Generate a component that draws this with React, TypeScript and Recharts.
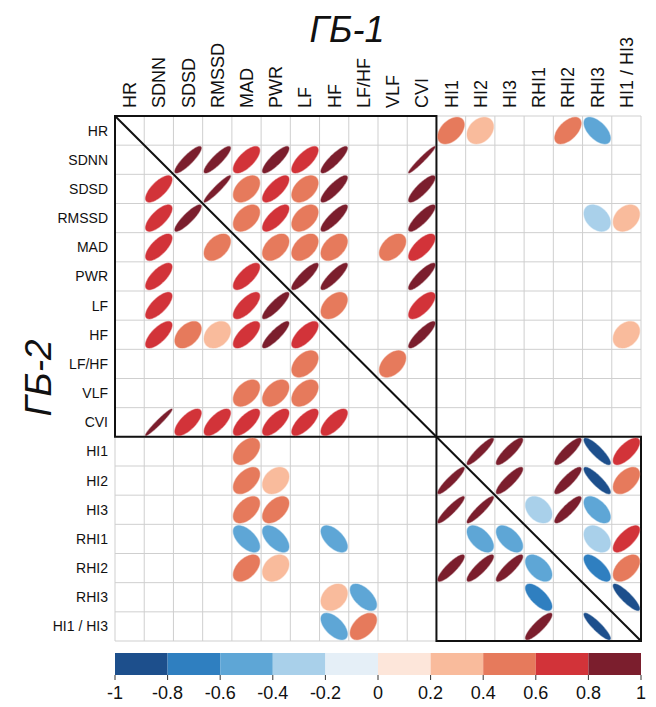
import React from 'react';
import {
  ScatterChart, Scatter, XAxis, YAxis, CartesianGrid, ReferenceLine, ReferenceArea,
  Customized, BarChart, Bar,
} from 'recharts';

// ---- categories / tick labels ----
const labels = ['HR', 'SDNN', 'SDSD', 'RMSSD', 'MAD', 'PWR', 'LF', 'HF', 'LF/HF', 'VLF', 'CVI',
  'HI1', 'HI2', 'HI3', 'RHI1', 'RHI2', 'RHI3', 'HI1 / HI3'];
const colorTicks = [-1, -0.8, -0.6, -0.4, -0.2, 0, 0.2, 0.4, 0.6, 0.8, 1];
const binColors = ['#1d4f8c', '#2f7fc0', '#5ea6d6', '#a9d0ea', '#e5eff7',
  '#fde6da', '#f9bb9c', '#e67a5c', '#d23339', '#7b1e2d'];

// ---- correlation values, one array per row (null = not shown) ----
const _ = null;
const rowHR    = [_, _, _, _, _, _, _, _, _, _, _, 0.45, 0.3, _, _, 0.55, -0.58, _];
const rowSDNN  = [_, _, 0.88, 0.88, 0.7, 0.85, 0.72, 0.87, _, _, 0.97, _, _, _, _, _, _, _];
const rowSDSD  = [_, 0.72, _, 0.95, 0.45, 0.72, 0.45, 0.85, _, _, 0.85, _, _, _, _, _, _, _];
const rowRMSSD = [_, 0.72, 0.88, _, 0.45, 0.72, 0.45, 0.85, _, _, 0.85, _, _, _, _, _, -0.35, 0.3];
const rowMAD   = [_, 0.7, _, 0.45, _, 0.45, 0.45, 0.45, _, 0.45, 0.7, _, _, _, _, _, _, _];
const rowPWR   = [_, 0.72, _, _, 0.72, _, 0.87, 0.87, _, _, 0.87, _, _, _, _, _, _, _];
const rowLF    = [_, 0.72, _, _, 0.72, 0.87, _, 0.45, _, _, 0.7, _, _, _, _, _, _, _];
const rowHF    = [_, 0.72, 0.45, 0.3, 0.7, 0.87, 0.7, _, _, _, 0.87, _, _, _, _, _, _, 0.3];
const rowLFHF  = [_, _, _, _, _, _, 0.45, _, _, 0.45, _, _, _, _, _, _, _, _];
const rowVLF   = [_, _, _, _, 0.45, 0.45, 0.45, _, _, _, _, _, _, _, _, _, _, _];
const rowCVI   = [_, 0.97, 0.7, 0.7, 0.72, 0.7, 0.72, 0.7, _, _, _, _, _, _, _, _, _, _];
const rowHI1   = [_, _, _, _, 0.45, _, _, _, _, _, _, _, 0.92, 0.87, _, 0.87, -0.87, 0.7];
const rowHI2   = [_, _, _, _, 0.5, 0.3, _, _, _, _, _, 0.92, _, 0.87, _, 0.87, -0.87, 0.5];
const rowHI3   = [_, _, _, _, 0.5, 0.5, _, _, _, _, _, 0.92, 0.92, _, -0.35, 0.87, -0.55, _];
const rowRHI1  = [_, _, _, _, -0.58, -0.58, _, -0.58, _, _, _, _, -0.55, -0.55, _, _, -0.35, 0.7];
const rowRHI2  = [_, _, _, _, 0.5, 0.3, _, _, _, _, _, 0.87, 0.87, 0.87, -0.5, _, -0.7, 0.5];
const rowRHI3  = [_, _, _, _, _, _, _, 0.3, -0.58, _, _, _, _, _, -0.7, _, _, -0.87];
const rowHI1HI3 = [_, _, _, _, _, _, _, -0.58, 0.5, _, _, _, _, _, 0.87, _, -0.9, _];

const rows = [rowHR, rowSDNN, rowSDSD, rowRMSSD, rowMAD, rowPWR, rowLF, rowHF, rowLFHF, rowVLF,
  rowCVI, rowHI1, rowHI2, rowHI3, rowRHI1, rowRHI2, rowRHI3, rowHI1HI3];

// ---- derived tables ----
const N = labels.length;
const centers = labels.map((_l, i) => i + 0.5);
const bounds = Array.from({ length: N + 1 }, (_v, k) => k);
const points: { x: number; y: number; r: number }[] = [];
rows.forEach((row, ri) => row.forEach((v, ci) => {
  if (v !== null) points.push({ x: ci + 0.5, y: ri + 0.5, r: v as number });
}));
const colorBarRow: Record<string, any> = { name: 'cb', base: -1 };
binColors.forEach((_c, i) => { colorBarRow['b' + i] = colorTicks[i + 1] - colorTicks[i]; });
const colorBarData = [colorBarRow];

// ---- layout ----
const FONT = "Arial, 'Liberation Sans', sans-serif";
const W = 640;
const H = 637;
const MARGIN = { top: 8, right: 7, bottom: 4, left: 7 };
const Y_AXIS_W = 100;
const X_AXIS_H = 100;
const PLOT_W = W - MARGIN.left - MARGIN.right - Y_AXIS_W;
const PLOT_LEFT = MARGIN.left + Y_AXIS_W;
const PLOT_TOP = MARGIN.top + X_AXIS_H;
const CELL = PLOT_W / N;
const BAR_H = 22;

const colorFor = (r: number) => {
  let idx = Math.floor((r + 1) / 0.2 + 1e-9);
  if (idx < 0) idx = 0;
  if (idx > 9) idx = 9;
  return binColors[idx];
};

const EllipseShape = (props: any) => {
  const { cx, cy, payload } = props;
  if (cx == null || cy == null || !payload) return null;
  const r: number = payload.r;
  const d = Math.acos(Math.max(-1, Math.min(1, r)));
  const s = CELL * 0.455;
  let path = '';
  const steps = 80;
  for (let i = 0; i <= steps; i++) {
    const t = (i / steps) * 2 * Math.PI;
    const x = cx + s * Math.cos(t + d / 2);
    const y = cy - s * Math.cos(t - d / 2);
    path += (i === 0 ? 'M' : 'L') + x.toFixed(2) + ',' + y.toFixed(2);
  }
  const c = colorFor(r);
  return <path d={path + 'Z'} fill={c} stroke={c} strokeOpacity={0.45} strokeWidth={1.2} />;
};

const TopTick = (props: any) => {
  const { x, payload } = props;
  const idx = Math.round(payload.value - 0.5);
  const y = PLOT_TOP - 8;
  return (
    <text x={0} y={0} dy="0.36em" transform={`translate(${x},${y}) rotate(-90)`}
      textAnchor="start" fontSize={18} fontFamily={FONT} fill="#111">
      {labels[idx]}
    </text>
  );
};

const LeftTick = (props: any) => {
  const { y, payload } = props;
  const idx = Math.round(payload.value - 0.5);
  return (
    <text x={PLOT_LEFT - 7} y={y} dy="0.36em" textAnchor="end" fontSize={14}
      fontFamily={FONT} fill="#111">
      {labels[idx]}
    </text>
  );
};

const BarTick = (props: any) => {
  const { x, payload } = props;
  const yTop = BAR_H;
  return (
    <g>
      <line x1={x} x2={x} y1={yTop} y2={yTop + 5} stroke="#333" strokeWidth={1} />
      <text x={x} y={yTop + 24} textAnchor="middle" fontSize={18} fontFamily={FONT}
        fill="#111">{String(payload.value)}</text>
    </g>
  );
};

const Titles = () => (
  <g>
    <text x={339} y={34} textAnchor="middle" fontSize={36} fontStyle="italic"
      fontFamily={FONT} fill="#111">ГБ-1</text>
    <text x={0} y={0} transform="translate(43,370) rotate(-90)" textAnchor="middle"
      fontSize={37} fontStyle="italic" fontFamily={FONT} fill="#111">ГБ-2</text>
  </g>
);

export default function App() {
  return (
    <div style={{ width: W, fontFamily: FONT }}>
      <ScatterChart width={W} height={H} margin={MARGIN}>
        <CartesianGrid
          stroke="#cfcfcf"
          strokeWidth={1}
          verticalCoordinatesGenerator={({ offset }: any) =>
            bounds.map((k) => offset.left + (k * offset.width) / N)}
          horizontalCoordinatesGenerator={({ offset }: any) =>
            bounds.map((k) => offset.top + (k * offset.height) / N)}
        />
        <XAxis type="number" dataKey="x" domain={[0, N]} ticks={centers} orientation="top"
          height={X_AXIS_H} axisLine={false} tickLine={false} interval={0}
          tick={<TopTick />} allowDataOverflow />
        <YAxis type="number" dataKey="y" domain={[0, N]} ticks={centers} reversed
          width={Y_AXIS_W} axisLine={false} tickLine={false} interval={0}
          tick={<LeftTick />} allowDataOverflow />
        <Scatter data={points} shape={<EllipseShape />} isAnimationActive={false} />
        <ReferenceLine segment={[{ x: 0, y: 0 }, { x: N, y: N }]} stroke="#111"
          strokeWidth={2} ifOverflow="visible" />
        <ReferenceArea x1={0} x2={11} y1={0} y2={11} fill="none" fillOpacity={0}
          stroke="#111" strokeWidth={2} ifOverflow="visible" />
        <ReferenceArea x1={11} x2={N} y1={11} y2={N} fill="none" fillOpacity={0}
          stroke="#111" strokeWidth={2} ifOverflow="visible" />
        <Customized component={Titles} />
      </ScatterChart>
      <div style={{ marginTop: 8 }}>
        <BarChart width={W} height={BAR_H + 34} layout="vertical" data={colorBarData}
          margin={{ top: 0, right: MARGIN.right, bottom: 0, left: PLOT_LEFT }}
          barCategoryGap={0} stackOffset="none">
          <XAxis type="number" domain={[-1, 1]} ticks={colorTicks} interval={0}
            axisLine={false} tickLine={false} height={34} allowDataOverflow
            tick={<BarTick />} />
          <YAxis type="category" dataKey="name" hide width={0} />
          <Bar dataKey="base" stackId="cb" fill="none" fillOpacity={0} isAnimationActive={false} />
          {binColors.map((c, i) => (
            <Bar key={i} dataKey={'b' + i} stackId="cb" fill={c} isAnimationActive={false} />
          ))}
        </BarChart>
      </div>
    </div>
  );
}
